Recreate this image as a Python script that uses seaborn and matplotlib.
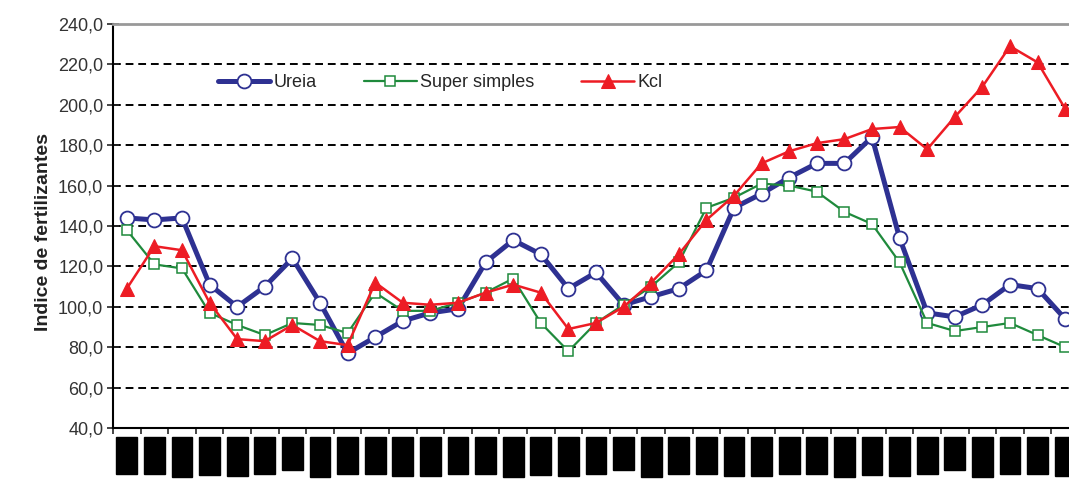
import numpy as np
import matplotlib
matplotlib.use("Agg")
import matplotlib.pyplot as plt
import seaborn as sns
from matplotlib.ticker import FuncFormatter

# dados
ureia = [144, 143, 144, 111, 100, 110, 124, 102, 77, 85, 93, 97, 99, 122, 133, 126, 109, 117,
         101, 105, 109, 118, 149, 156, 164, 171, 171, 184, 134, 97, 95, 101, 111, 109, 94]
super_simples = [138, 121, 119, 97, 91, 86, 92, 91, 87, 107, 98, 98, 102, 107, 114, 92, 78, 92,
                 101, 110, 122, 149, 154, 161, 160, 157, 147, 141, 122, 92, 88, 90, 92, 86, 80]
kcl = [109, 130, 128, 102, 84, 83, 91, 83, 81, 112, 102, 101, 102, 107, 111, 107, 89, 92,
       100, 112, 126, 143, 155, 171, 177, 181, 183, 188, 189, 178, 194, 209, 229, 221, 198]
rotulos = ["jan/03", "fev/03", "mar/03", "abr/03", "mai/03", "jun/03", "jul/03", "ago/03",
           "set/03", "out/03", "nov/03", "dez/03", "jan/04", "fev/04", "mar/04", "abr/04",
           "mai/04", "jun/04", "jul/04", "ago/04", "set/04", "out/04", "nov/04", "dez/04",
           "jan/05", "fev/05", "mar/05", "abr/05", "mai/05", "jun/05", "jul/05", "ago/05",
           "set/05", "out/05", "nov/05"]
idx = np.arange(len(rotulos))

sns.set_style("white")
plt.rcParams["font.family"] = ["Liberation Sans", "DejaVu Sans"]

azul = "#2E3192"
verde = "#1F8A3C"
vermelho = "#ED1C24"

fig = plt.figure(figsize=(10.69, 4.82), dpi=100)
ax = fig.add_axes([113 / 1069, 1 - 428 / 482, 966 / 1069, 404 / 482])

sns.lineplot(x=idx, y=ureia, ax=ax, color=azul, lw=3.6, marker="o", markersize=10,
             markerfacecolor="white", markeredgecolor=azul, markeredgewidth=1.3, label="Ureia")
sns.lineplot(x=idx, y=super_simples, ax=ax, color=verde, lw=1.6, marker="s", markersize=7,
             markerfacecolor="white", markeredgecolor=verde, markeredgewidth=1.1, label="Super simples")
sns.lineplot(x=idx, y=kcl, ax=ax, color=vermelho, lw=1.8, marker="^", markersize=10,
             markerfacecolor=vermelho, markeredgecolor=vermelho, label="Kcl")

# eixo y
ax.set_ylim(40, 240)
ax.set_yticks(range(40, 241, 20))
ax.yaxis.set_major_formatter(FuncFormatter(lambda v, p: f"{v:.1f}".replace(".", ",")))
ax.tick_params(axis="y", direction="inout", length=8, width=1.2, labelsize=13,
               labelcolor="#333333", pad=3, left=True)
ax.set_ylabel("Indice de fertilizantes", fontsize=14, fontweight="bold", color="#222222")
ax.yaxis.set_label_coords(-0.063, 0.485)

# eixo x (rótulos aparecem como caixas pretas)
ax.set_xlim(-0.5, 34.5)
ax.set_xticks(idx)
ax.set_xticklabels(rotulos, rotation=90, fontsize=7, color="black")
for lbl in ax.get_xticklabels():
    lbl.set_bbox(dict(boxstyle="square,pad=0.55", fc="black", ec="black"))
ax.set_xticks(np.arange(-0.5, 35, 1), minor=True)
ax.tick_params(axis="x", which="major", length=0, pad=10)
ax.tick_params(axis="x", which="minor", direction="out", length=4, width=1.2, bottom=True)

ax.grid(axis="y", color="black", linestyle=(0, (4, 2.5)), linewidth=1.4)
ax.grid(axis="x", visible=False)
ax.set_axisbelow(True)
for s in ["left", "bottom"]:
    ax.spines[s].set_color("black")
    ax.spines[s].set_linewidth(1.5)
ax.spines["top"].set_color("#999999")
ax.spines["top"].set_linewidth(2)
ax.spines["right"].set_visible(False)

ax.legend(loc="center left", bbox_to_anchor=(0.092, 0.854), ncol=3, frameon=False,
          handlelength=2.9, handletextpad=0.2, columnspacing=2.6, fontsize=13)

fig.savefig("out.png", dpi=100)
